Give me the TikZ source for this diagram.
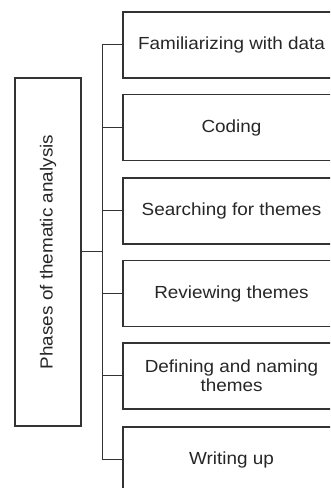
\documentclass[tikz,border=0pt]{standalone}
\usepackage{fontspec}
\setmainfont{Liberation Sans}[FakeStretch=1.08]
\begin{document}
\begin{tikzpicture}[x=1bp,y=1bp,
  phase/.style={draw=black!80, line width=1.1bp, minimum width=217bp, minimum height=66bp,
    inner sep=0pt, align=center, text=black!85, font=\fontsize{17.5bp}{19bp}\selectfont},
  main/.style={draw=black!80, line width=1.1bp, minimum width=66bp, minimum height=348bp,
    inner sep=0pt, text=black!85, font=\fontsize{17.5bp}{19bp}\selectfont},
  link/.style={draw=black!80, line width=1bp}]
\useasboundingbox (0,0) rectangle (330,488);
\clip (0,0) rectangle (330,488);
\node[main] (L) at (48,236) {\rotatebox{90}{Phases of thematic analysis}};
\node[phase] (b1) at (231.5,443) {Familiarizing with data};
\node[phase] (b2) at (231.5,360.5) {Coding};
\node[phase] (b3) at (231.5,277) {Searching for themes};
\node[phase] (b4) at (231.5,194.5) {Reviewing themes};
\node[phase] (b5) at (231.5,112) {Defining and naming\\themes};
\node[phase] (b6) at (231.5,28) {Writing up};
\coordinate (t) at (102,0);
\draw[link] (b1.west -| t) -- (b6.west -| t);
\draw[link] (L.east) -- (L.east -| t);
\foreach \b in {b1,b2,b3,b4,b5,b6}
  \draw[link] (\b.west) -- (\b.west -| t);
\end{tikzpicture}
\end{document}
